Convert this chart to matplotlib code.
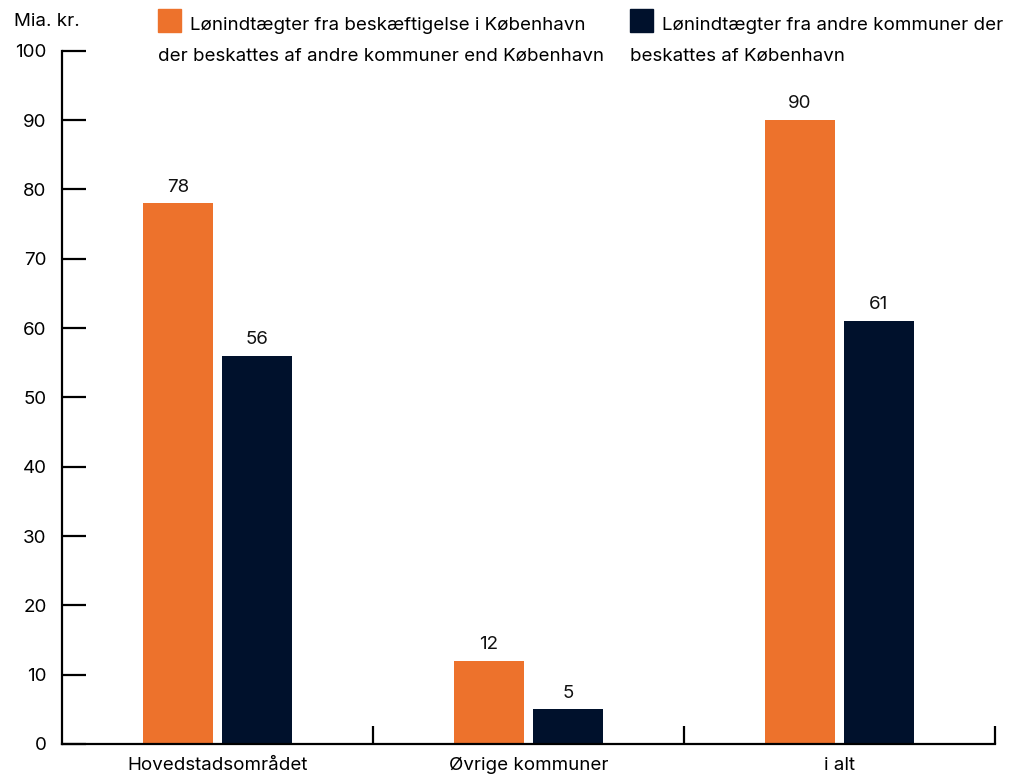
import matplotlib.pyplot as plt
import matplotlib.patches as mpatches
import numpy as np

# Data
categories = ['Hovedstadsområdet', 'Øvrige kommuner', 'i alt']
outside_taxed = [78, 12, 90]   # beskattes af andre kommuner end København
cph_taxed = [56, 5, 61]        # beskattes af København
legend_labels = [
    ['Lønindtægter fra beskæftigelse i København',
     'der beskattes af andre kommuner end København'],
    ['Lønindtægter fra andre kommuner der',
     'beskattes af København'],
]
yticks = list(range(0, 101, 10))

orange = '#ED722C'
navy = '#00112C'
fs = 13.5

plt.rcParams['font.family'] = ['Inter', 'DejaVu Sans']
plt.rcParams['font.size'] = fs

fig = plt.figure(figsize=(10.26, 7.76), dpi=100)
ax = fig.add_axes([62 / 1026, 1 - 744 / 776, (995 - 62) / 1026, (744 - 50.7) / 776])

x = np.arange(len(categories))
w = 0.228
off = 0.127
b1 = ax.bar(x - off, outside_taxed, w, color=orange)
b2 = ax.bar(x + off, cph_taxed, w, color=navy)

for bars, vals in [(b1, outside_taxed), (b2, cph_taxed)]:
    for rect, v in zip(bars, vals):
        ax.annotate(str(v), (rect.get_x() + rect.get_width() / 2, v),
                    xytext=(0, 5.5), textcoords='offset points',
                    ha='center', va='bottom', fontsize=fs, color='#111111')

ax.set_xlim(-0.5, 2.5)
ax.set_ylim(0, 100)
ax.set_yticks(yticks)
ax.set_xticks(x)
ax.set_xticklabels(categories)
ax.set_xticks([0.5, 1.5, 2.5], minor=True)

for s in ['top', 'right']:
    ax.spines[s].set_visible(False)
for s in ['left', 'bottom']:
    ax.spines[s].set_linewidth(1.6)
    ax.spines[s].set_color('black')

ax.tick_params(axis='y', direction='in', length=17, width=1.6, pad=11,
               labelsize=fs, colors='black')
ax.tick_params(axis='x', which='major', length=0, pad=9, labelsize=fs)
ax.tick_params(axis='x', which='minor', direction='in', length=13, width=1.6)

fig.text(14 / 1026, 1 - 26 / 776, 'Mia. kr.', fontsize=fs, ha='left', va='baseline')

# Legend drawn as inline squares with wrapped text
for (sx, tx), lines, col in [((158, 190), legend_labels[0], orange),
                             ((630, 662), legend_labels[1], navy)]:
    fig.patches.append(mpatches.Rectangle((sx / 1026, 1 - 32 / 776), 23 / 1026, 23 / 776,
                                          transform=fig.transFigure, color=col))
    fig.text(tx / 1026, 1 - 30 / 776, lines[0], fontsize=fs, ha='left', va='baseline')
    fig.text(sx / 1026, 1 - 61 / 776, lines[1], fontsize=fs, ha='left', va='baseline')

fig.savefig('out.png', dpi=100)
